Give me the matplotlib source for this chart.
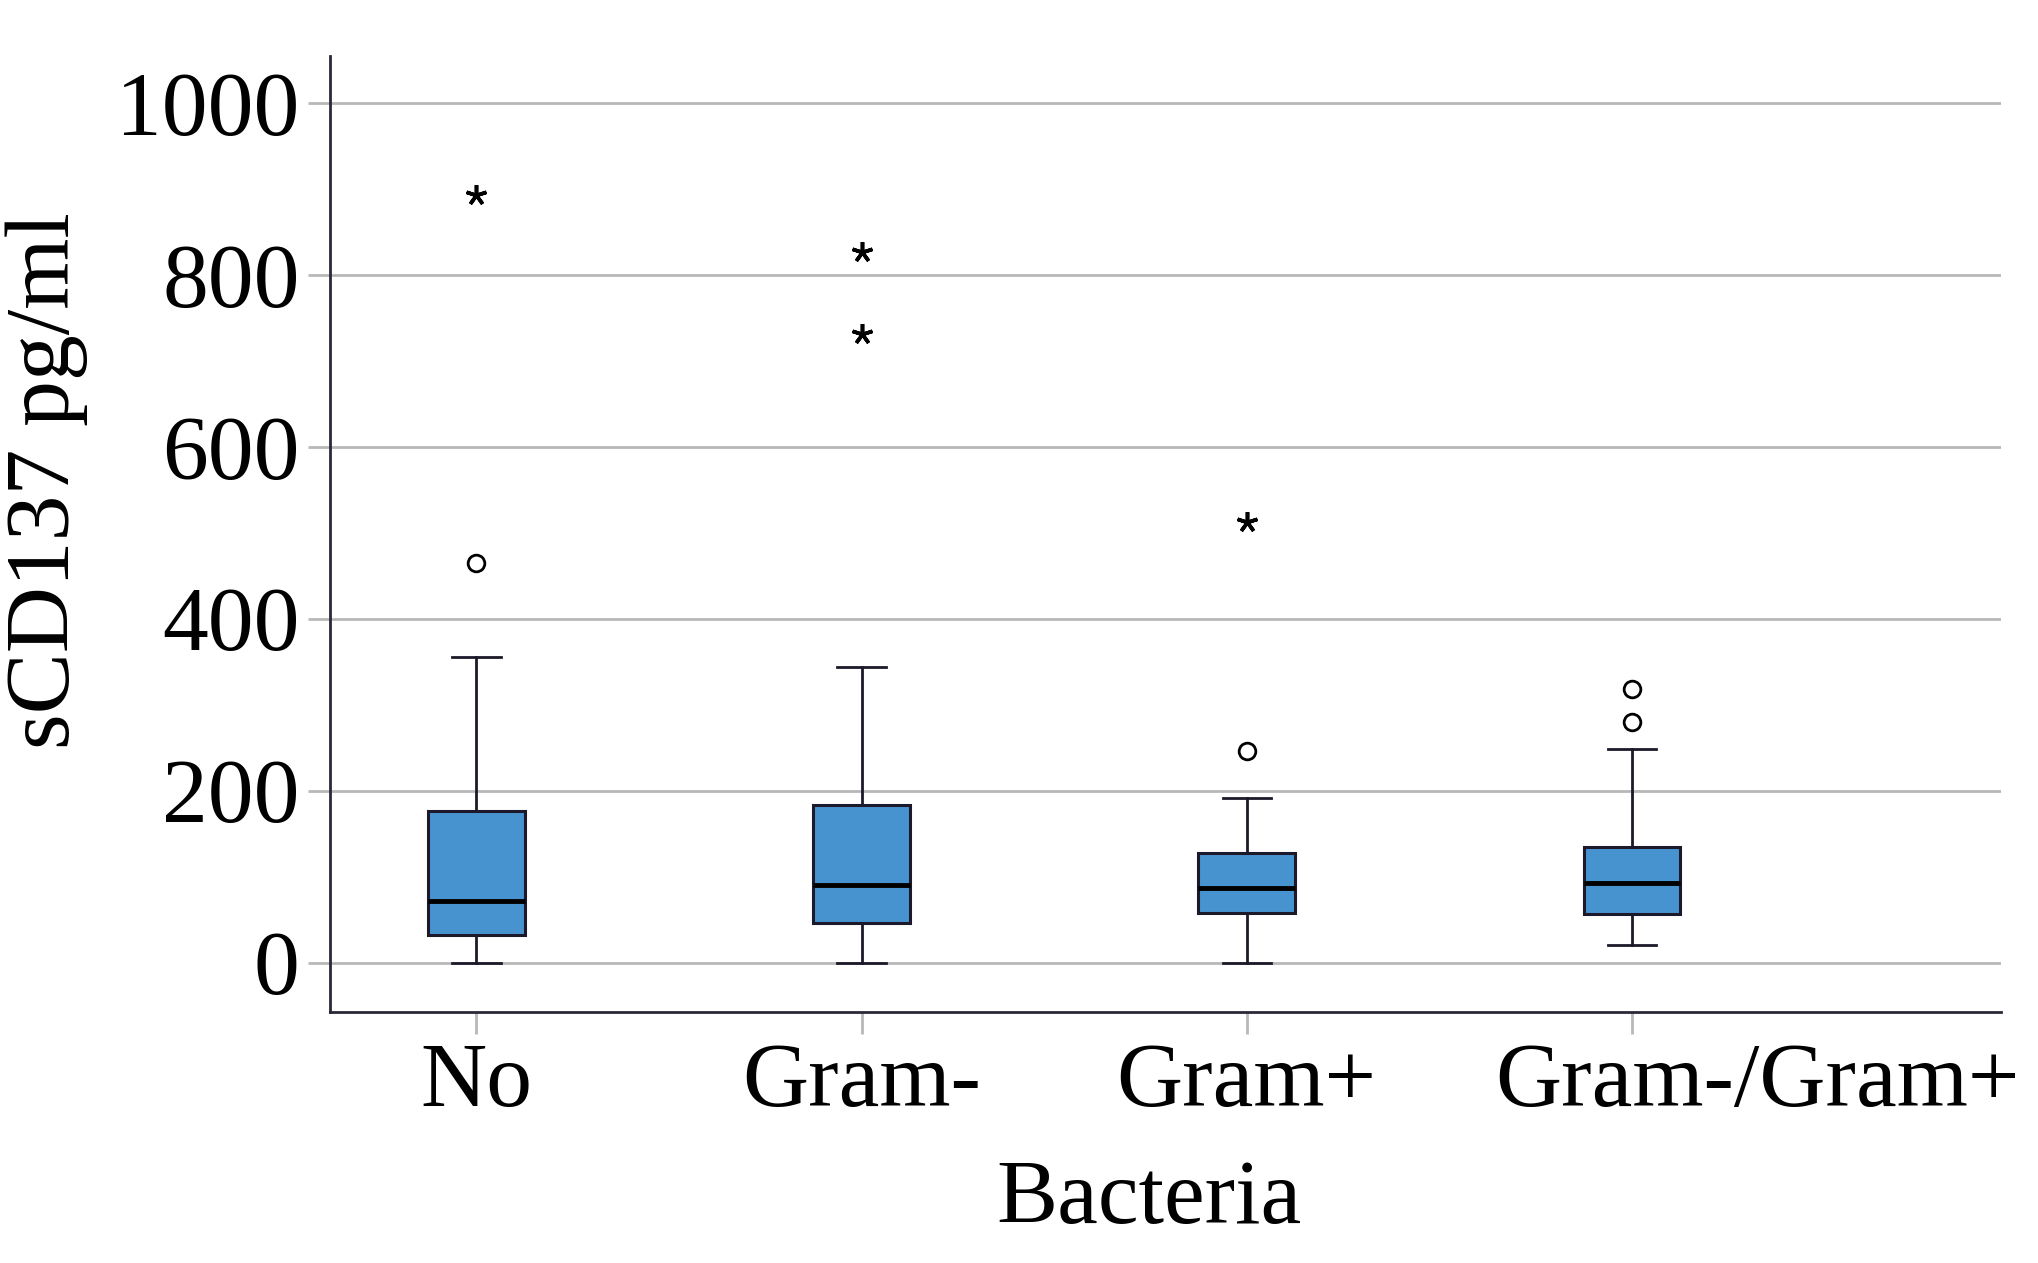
import matplotlib
matplotlib.use("Agg")
import matplotlib.pyplot as plt
import matplotlib.transforms as mtransforms

# data
groups = ["No", "Gram-", "Gram+", "Gram-/Gram+"]
whisker_low = [0, 0, 0, 21]
q1 = [32, 46, 58, 57]
median = [72, 90, 87, 93]
q3 = [176, 183, 127, 135]
whisker_high = [355, 344, 191, 249]
outliers_circle = [[465], [], [246], [318, 280]]
outliers_star = [[893], [826, 731], [512], []]

plt.rcParams["font.family"] = ["Liberation Serif", "DejaVu Serif"]

fig = plt.figure(figsize=(20.38, 12.63), dpi=100)
ax = fig.add_axes([0.162, 0.199, 0.820, 0.757])

stats = []
for i, g in enumerate(groups):
    stats.append(dict(label=g, whislo=whisker_low[i], q1=q1[i], med=median[i],
                      q3=q3[i], whishi=whisker_high[i], fliers=[]))

pos = list(range(len(groups)))
edge = "#1c1a2a"
ax.bxp(stats, positions=pos, widths=0.25, patch_artist=True, showfliers=False,
       boxprops=dict(facecolor="#4793d0", edgecolor=edge, linewidth=2.2),
       medianprops=dict(color="black", linewidth=3.5),
       whiskerprops=dict(color=edge, linewidth=2.0),
       capprops=dict(color=edge, linewidth=2.0), capwidths=0.125, zorder=3)

for i in pos:
    if outliers_circle[i]:
        ax.plot([i] * len(outliers_circle[i]), outliers_circle[i], "o", ms=12,
                mfc="white", mec="black", mew=2, zorder=4)
    if outliers_star[i]:
        ax.plot([i] * len(outliers_star[i]), outliers_star[i], ls="none",
                marker=(5, 2, 0), ms=15, mec="black", mew=2.6, zorder=4)

ax.set_xlim(-0.38, 3.96)
ax.set_ylim(-57, 1055)
ax.set_yticks([0, 200, 400, 600, 800, 1000])
ax.set_xticks(pos)
ax.set_xticklabels(groups)
ax.yaxis.grid(True, color="#b8b8b8", linewidth=2, zorder=0)
ax.set_axisbelow(True)

for s in ["top", "right"]:
    ax.spines[s].set_visible(False)
for s in ["left", "bottom"]:
    ax.spines[s].set_color("#2b2838")
    ax.spines[s].set_linewidth(2)

ax.tick_params(axis="both", labelsize=66, color="#b8b8b8", width=2, length=16,
               pad=6)

# last category label sits right of its tick in the reference
lbl = ax.get_xticklabels()[-1]
lbl.set_transform(lbl.get_transform() +
                  mtransforms.ScaledTranslation(1.26, 0, fig.dpi_scale_trans))

ax.set_xlabel("Bacteria", fontsize=66)
ax.set_ylabel("sCD137 pg/ml", fontsize=66)
ax.xaxis.set_label_coords(0.49, -0.155)
ax.yaxis.set_label_coords(-0.145, 0.556)

fig.savefig("out.png", dpi=100, facecolor="white")
